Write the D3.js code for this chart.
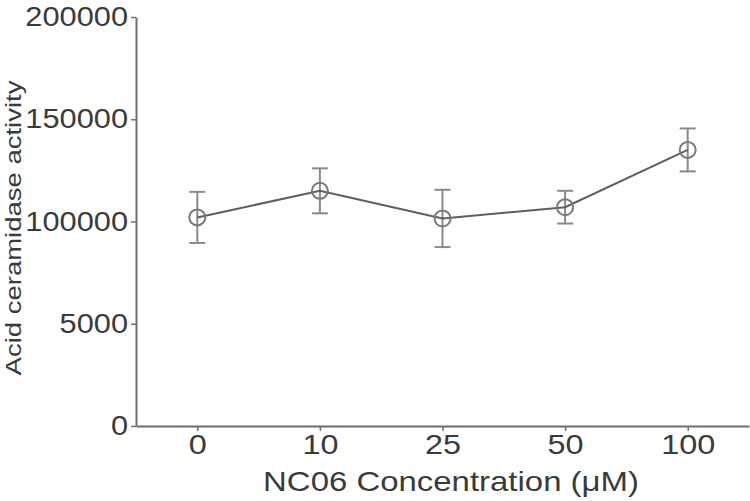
<!DOCTYPE html>
<html>
<head>
<meta charset="utf-8">
<script src="https://cdn.jsdelivr.net/npm/d3@7"></script>
<style>
  html, body { margin: 0; padding: 0; background: #fff; }
  svg { display: block; }
  text { font-family: "Liberation Sans", Arial, sans-serif; fill: #3a3a3a; }
</style>
</head>
<body>
<svg id="chart" width="750" height="501"></svg>
<script>
const categories = ["0", "10", "25", "50", "100"];
const values = [102000, 115000, 101500, 107000, 135000];
const errors = [12500, 11000, 14000, 8000, 10500];
const yTickValues = [0, 50000, 100000, 150000, 200000];
const yTickLabels = ["0", "5000", "100000", "150000", "200000"];
const xTitle = "NC06 Concentration (\u03BCM)";
const yTitle = "Acid ceramidase activity";

const svg = d3.select("#chart");
const x = d3.scalePoint().domain(categories).range([136, 749]).padding(0.5);
const y = d3.scaleLinear().domain([0, 200000]).range([426, 17]);

const axisColor = "#6e6e6e";

// Y axis
const gy = svg.append("g").attr("transform", "translate(136,0)")
  .call(d3.axisLeft(y).tickValues(yTickValues).tickSize(5).tickSizeOuter(0)
    .tickFormat((d, i) => yTickLabels[i]));
gy.select(".domain").attr("stroke", axisColor).attr("stroke-width", 2);
gy.selectAll(".tick line").attr("stroke", axisColor).attr("stroke-width", 1.5);
gy.selectAll(".tick text")
  .attr("x", 0).attr("fill", "#3a3a3a")
  .style("font-size", "27px")
  .attr("transform", "translate(-8,0) scale(1.14,1)");

// X axis
const gx = svg.append("g").attr("transform", "translate(0,426)")
  .call(d3.axisBottom(x).tickSize(5).tickSizeOuter(0));
gx.select(".domain").attr("stroke", axisColor).attr("stroke-width", 2);
gx.selectAll(".tick line").attr("stroke", axisColor).attr("stroke-width", 1.5);
gx.selectAll(".tick text")
  .attr("y", 0).attr("fill", "#3a3a3a")
  .style("font-size", "27px")
  .attr("transform", "translate(0,9) scale(1.2,1)");

// Titles
svg.append("text")
  .attr("transform", "translate(451,491) scale(1.22,1)")
  .attr("text-anchor", "middle")
  .style("font-size", "27px")
  .text(xTitle);

svg.append("text")
  .attr("transform", "translate(21,228) rotate(-90) scale(1.25,1)")
  .attr("text-anchor", "middle")
  .style("font-size", "22px")
  .text(yTitle);

const data = categories.map((c, i) => ({ c, v: values[i], e: errors[i] }));

// Error bars
const eb = svg.append("g").attr("stroke", "#8a8a8a").attr("stroke-width", 2);
data.forEach(d => {
  const cx = x(d.c);
  eb.append("line").attr("x1", cx).attr("x2", cx).attr("y1", y(d.v + d.e)).attr("y2", y(d.v - d.e));
  eb.append("line").attr("x1", cx - 8).attr("x2", cx + 8).attr("y1", y(d.v + d.e)).attr("y2", y(d.v + d.e));
  eb.append("line").attr("x1", cx - 8).attr("x2", cx + 8).attr("y1", y(d.v - d.e)).attr("y2", y(d.v - d.e));
});

// Line
svg.append("path")
  .datum(data)
  .attr("fill", "none")
  .attr("stroke", "#5e5e5e")
  .attr("stroke-width", 2)
  .attr("d", d3.line().x(d => x(d.c)).y(d => y(d.v)));

// Markers
svg.append("g").selectAll("circle").data(data).join("circle")
  .attr("cx", d => x(d.c)).attr("cy", d => y(d.v)).attr("r", 8)
  .attr("fill", "none").attr("stroke", "#7a7a7a").attr("stroke-width", 2);
</script>
</body>
</html>
